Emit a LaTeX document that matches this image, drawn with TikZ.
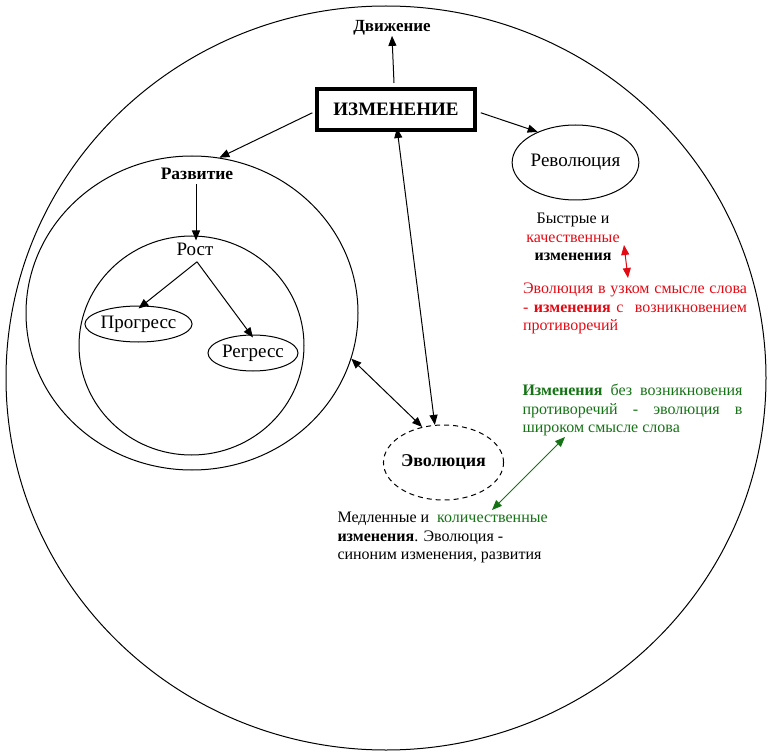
\documentclass[tikz,border=0pt]{standalone}
\usepackage{fontspec}
\setmainfont{Liberation Serif}
\usetikzlibrary{arrows.meta,shapes.geometric}
\definecolor{myred}{RGB}{228,10,20}
\definecolor{mygreen}{RGB}{20,115,20}
\tikzset{
  tip/.style={-{Triangle[length=10pt,width=8pt]}},
  dtip/.style={{Triangle[length=10pt,width=8pt]}-{Triangle[length=10pt,width=8pt]}},
  ring/.style={draw,ellipse,inner sep=0pt,line width=1pt},
  lbl/.style={inner sep=0pt},
  small/.style={font=\fontsize{16}{18.5}\selectfont},
  big/.style={font=\fontsize{19}{22}\selectfont},
}
\begin{document}
\begin{tikzpicture}[x=1pt,y=-1pt,line width=1pt]
\useasboundingbox (0,0) rectangle (771,754);
% outer circles
\node[ring,minimum width=760,minimum height=744] (outer) at (386,378) {};
\node[ring,minimum width=332,minimum height=314] (razv) at (192,313) {};
\node[ring,minimum width=225,minimum height=219] (rostc) at (191.5,345.5) {};
% main box
\node[draw,line width=4pt,minimum width=158,minimum height=41,inner sep=0pt,font=\fontsize{19}{22}\selectfont\bfseries] (izm) at (396,109.5) {ИЗМЕНЕНИЕ};
\node[lbl,font=\fontsize{17}{20}\selectfont\bfseries] (dv) at (392,28) {Движение};
\node[lbl,font=\fontsize{17.5}{20}\selectfont\bfseries] (razvt) at (197,174) {Развитие};
\node[lbl,big] (rost) at (195,249) {Рост};
\node[ring,minimum width=104,minimum height=36,big] (prog) at (138.5,324) {Прогресс};
\node[ring,minimum width=90,minimum height=36,big] (regr) at (253,353) {Регресс};
\node[ring,minimum width=119,minimum height=75,big] (rev) at (575.5,162.5) {Революция};
\node[ring,dashed,dash pattern=on 5pt off 4pt,minimum width=119,minimum height=75,font=\fontsize{18}{21}\selectfont\bfseries] (evol) at (443.5,462.5) {Эволюция};
% texts
\node[lbl,small,align=center] (fast) at (573,237) {Быстрые и\\\textcolor{myred}{качественные}\\\textbf{изменения}};
\node[lbl,small,align=left,text=myred] (narrow) at (635,308.5) {\makebox[224pt][s]{Эволюция в узком смысле слова}\\\makebox[224pt][s]{- \textbf{изменения} с \ возникновением}\\противоречий\hfill\null};
\node[lbl,small,align=left,text=mygreen] (wide) at (632.5,410) {\makebox[220pt][s]{\textbf{Изменения} без возникновения}\\\makebox[220pt][s]{противоречий - эволюция в}\\широком смысле слова\hfill\null};
\node[lbl,small,align=left,anchor=west] (slow) at (337,537.5) {Медленные и \ \textcolor{mygreen}{количественные}\\\textbf{изменения}. Эволюция -\\синоним изменения, развития};
% free ends
\coordinate (r1) at (624,245);
\coordinate (r2) at (628,278);
\coordinate (g1) at (492,510);
\coordinate (g2) at (565,437);
% connectors
\draw[tip] (izm.north) ++(-2,-4) coordinate (izmN) (izmN) -- (dv.south);
\draw[tip,shorten <=3pt] ([yshift=-2pt]izm.west) -- (razv.80);
\draw[tip,shorten <=4pt] ([yshift=-2pt]izm.east) -- (rev.141);
\draw[dtip] ([xshift=1pt,yshift=4pt]izm.south) -- (evol.103);
\draw[dtip] (razv.-16) -- (evol.121);
\draw[tip] (razvt.south) ++(-1,4) coordinate (razvS) (razvS) -- ([yshift=-5pt]razvS |- rostc.north);
\draw[tip] (rost.south) ++(2,6) coordinate (rostS) (rostS) -- ([yshift=-3pt]prog.north);
\draw[tip] (rostS) -- ([yshift=-3pt]regr.north);
\draw[dtip,myred] (r1) -- (r2);
\draw[dtip,mygreen] (g1) -- (g2);
\end{tikzpicture}
\end{document}
